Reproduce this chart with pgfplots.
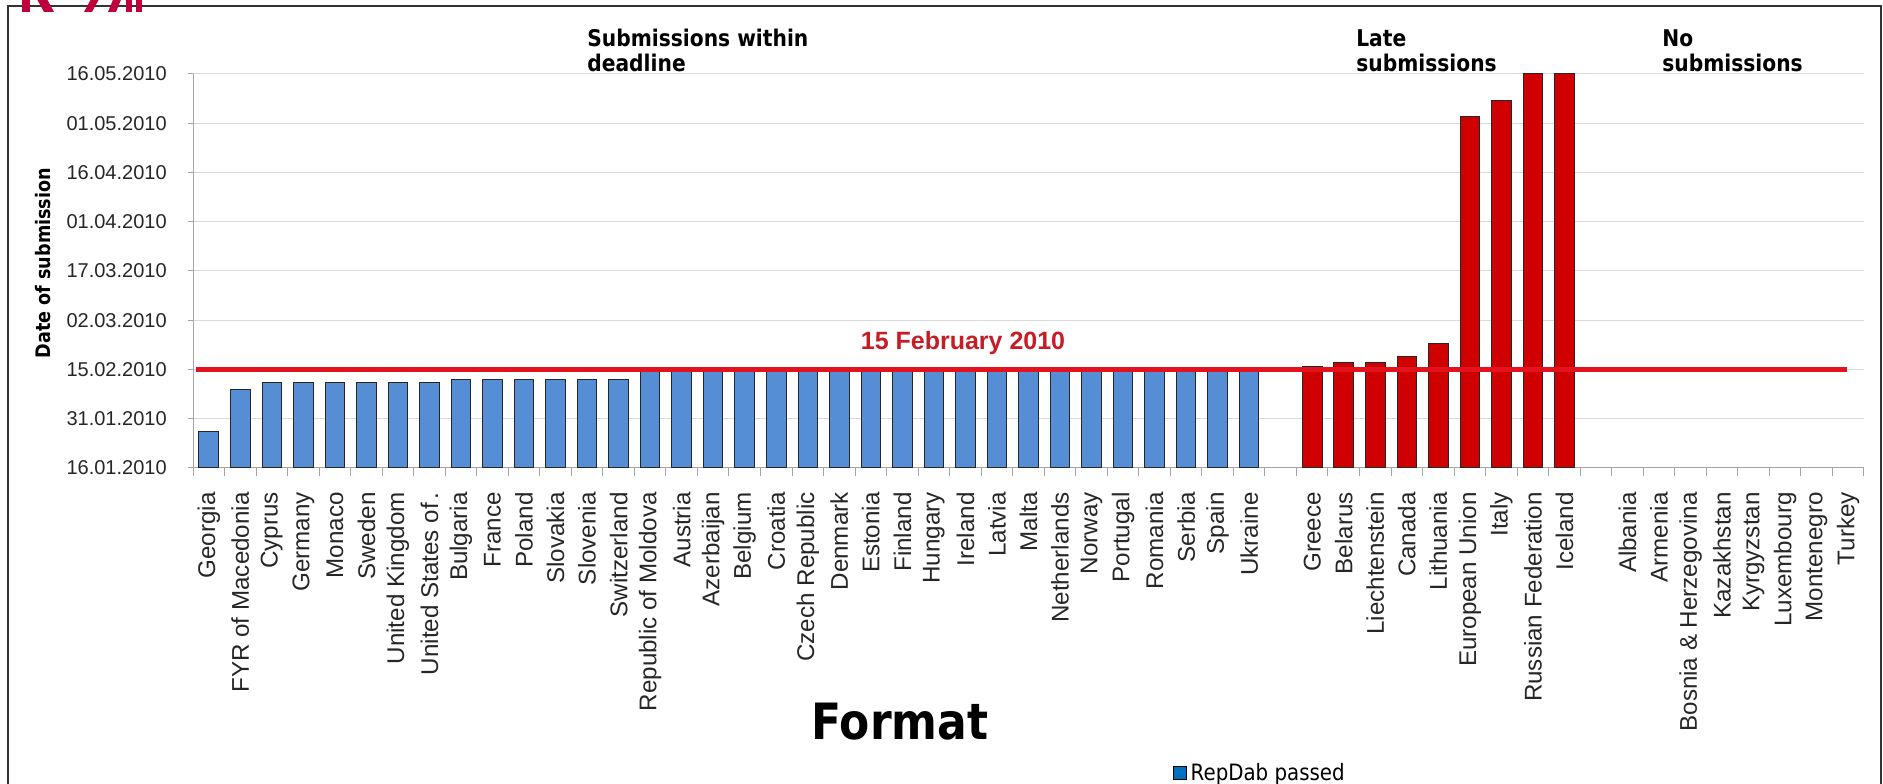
\documentclass[border=0pt]{standalone}
\usepackage{fontspec}
\setmainfont{Liberation Sans}
\newfontfamily\tah[FakeStretch=0.88]{DejaVu Sans}
\usepackage{pgfplots}
\usepackage{pgfplotstable}
\pgfplotsset{compat=1.18}
\definecolor{barblue}{RGB}{85,142,213}
\definecolor{barred}{RGB}{208,0,0}
\definecolor{lineRed}{RGB}{228,18,28}
\definecolor{dlRed}{RGB}{198,28,38}
\definecolor{legblue}{RGB}{0,112,192}
\definecolor{logored}{RGB}{190,0,60}
\definecolor{gridgray}{RGB}{217,217,217}
\definecolor{axgray}{RGB}{165,165,165}

% x = category slot, y = day of year 2010 (16 = 16.01.2010)
\pgfplotstableread{
x y
0 27
1 40
2 42
3 42
4 42
5 42
6 42
7 42
8 43
9 43
10 43
11 43
12 43
13 43
14 46
15 46
16 46
17 46
18 46
19 46
20 46
21 46
22 46
23 46
24 46
25 46
26 46
27 46
28 46
29 46
30 46
31 46
32 46
33 46
}\withindata
\pgfplotstableread{
x y
35 47
36 48
37 48
38 50
39 54
40 123
41 128
42 136
43 136
}\latedata

\begin{document}
\begin{tikzpicture}
\useasboundingbox (0,0) rectangle (1129.8pt,470.4pt);
\begin{scope}
\clip (0,0) rectangle (1129.8pt,470.4pt);
\draw[black!80, line width=1.2pt] (4.8pt,-5pt) -- (4.8pt,466.8pt) -- (1128.6pt,466.8pt) -- (1128.6pt,-5pt);
% cut-off red logo fragments at the top edge
\fill[logored] (13.2pt,463.2pt) -- (18pt,463.2pt) -- (18pt,472pt) -- (13.2pt,472pt) -- cycle;
\fill[logored] (26.4pt,463.2pt) -- (32.4pt,463.2pt) -- (27.6pt,472pt) -- (21.6pt,472pt) -- cycle;
\fill[logored] (50.4pt,463.2pt) -- (55.2pt,463.2pt) -- (60pt,472pt) -- (55.2pt,472pt) -- cycle;
\fill[logored] (64.8pt,463.2pt) -- (69.6pt,463.2pt) -- (73.2pt,472pt) -- (68.4pt,472pt) -- cycle;
\fill[logored] (75.6pt,463.2pt) -- (79.2pt,463.2pt) -- (79.2pt,472pt) -- (75.6pt,472pt) -- cycle;
\fill[logored] (81.6pt,463.2pt) -- (85.2pt,463.2pt) -- (85.2pt,472pt) -- (81.6pt,472pt) -- cycle;
\end{scope}

\begin{axis}[
  at={(115.8pt,189.6pt)}, anchor=south west,
  scale only axis, width=1002.6pt, height=236.4pt,
  xmin=-0.5, xmax=52.5, ymin=16, ymax=136,
  axis x line*=bottom, axis y line*=left,
  axis line style={draw=axgray, line width=0.6pt},
  ytick={16,31,46,61,76,91,106,121,136},
  yticklabels={16.01.2010,31.01.2010,15.02.2010,02.03.2010,17.03.2010,01.04.2010,16.04.2010,01.05.2010,16.05.2010},
  ymajorgrids, grid style={draw=gridgray, line width=0.6pt},
  tick align=outside,
  major tick length=3pt, minor tick length=5pt,
  tick style={draw=axgray, line width=0.6pt},
  xtick={0,...,52},
  xticklabels={Georgia,FYR of Macedonia,Cyprus,Germany,Monaco,Sweden,United Kingdom,{United States of\,.},Bulgaria,France,Poland,Slovakia,Slovenia,Switzerland,Republic of Moldova,Austria,Azerbaijan,Belgium,Croatia,Czech Republic,Denmark,Estonia,Finland,Hungary,Ireland,Latvia,Malta,Netherlands,Norway,Portugal,Romania,Serbia,Spain,Ukraine,{},Greece,Belarus,Liechtenstein,Canada,Lithuania,European Union,Italy,Russian Federation,Iceland,{},Albania,Armenia,Bosnia \& Herzegovina,Kazakhstan,Kyrgyzstan,Luxembourg,Montenegro,Turkey},
  minor xtick={-0.5,0.5,...,52.5},
  every major x tick/.append style={draw=none},
  xticklabel style={rotate=90, anchor=east, inner sep=0pt, font=\fontsize{14.5}{14.5}\selectfont, text=black!85},
  yticklabel style={inner sep=0pt, font=\fontsize{12}{12}\selectfont, text=black!85},
  xticklabel shift=11.4pt, yticklabel shift=12.6pt,
  ylabel={Date of submission},
  ylabel style={at={(axis description cs:-0.0898,0.52)}, anchor=center, font=\tah\bfseries\fontsize{12}{12}\selectfont},
  legend style={at={(axis description cs:0.5865,-0.774)}, anchor=west, draw=none, fill=none, inner sep=0pt,
    font=\tah\fontsize{13.5}{13.5}\selectfont},
]
\addplot[ybar, bar width=0.62, fill=barblue, draw=black!85, line width=0.6pt,
  legend image code/.code={\draw[fill=legblue, draw=black, line width=0.6pt] (0pt,-3.9pt) rectangle (7.8pt,3.9pt);}]
  table[x=x, y=y] {\withindata};
\addlegendentry{RepDab passed}
\addplot[ybar, bar width=0.62, fill=barred, draw=black!85, line width=0.6pt, forget plot]
  table[x=x, y=y] {\latedata};
\addplot[draw=lineRed, line width=3pt, forget plot] coordinates {(-0.4,46) (51.96,46)};
\end{axis}

\node[anchor=base west, inner sep=0pt, font=\tah\bfseries\fontsize{13.8}{13.8}\selectfont] at (352.2pt,442.5pt) {Submissions within};
\node[anchor=base west, inner sep=0pt, font=\tah\bfseries\fontsize{13.8}{13.8}\selectfont] at (352.2pt,427.5pt) {deadline};
\node[anchor=base west, inner sep=0pt, font=\tah\bfseries\fontsize{13.8}{13.8}\selectfont] at (813.6pt,442.5pt) {Late};
\node[anchor=base west, inner sep=0pt, font=\tah\bfseries\fontsize{13.8}{13.8}\selectfont] at (813.6pt,427.5pt) {submissions};
\node[anchor=base west, inner sep=0pt, font=\tah\bfseries\fontsize{13.8}{13.8}\selectfont] at (997.2pt,442.5pt) {No};
\node[anchor=base west, inner sep=0pt, font=\tah\bfseries\fontsize{13.8}{13.8}\selectfont] at (997.2pt,427.5pt) {submissions};
\node[anchor=base, inner sep=0pt, text=dlRed, font=\bfseries\fontsize{15}{15}\selectfont] at (577.8pt,260.4pt) {15 February 2010};
\node[anchor=base, inner sep=0pt, font=\tah\bfseries\fontsize{30}{30}\selectfont] at (540pt,26.4pt) {Format};
\end{tikzpicture}
\end{document}
